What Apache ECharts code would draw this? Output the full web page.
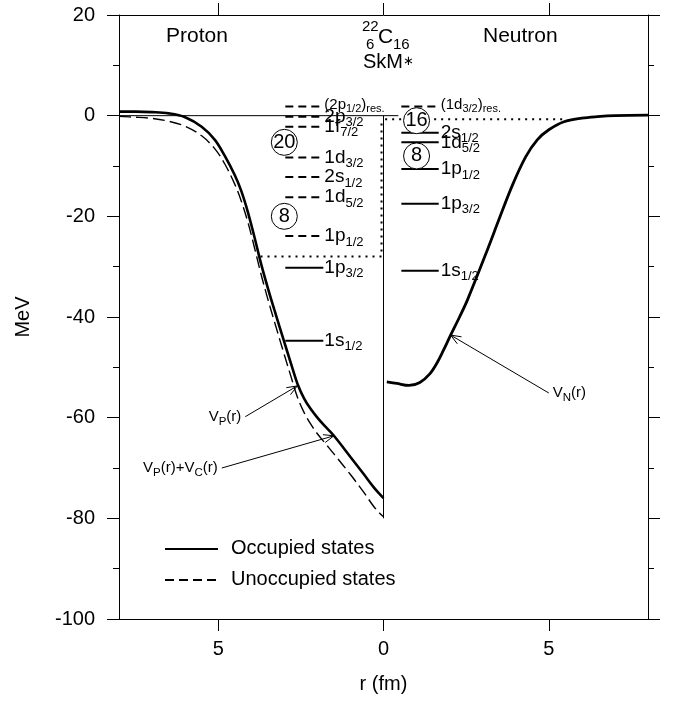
<!DOCTYPE html>
<html><head><meta charset="utf-8">
<script src="https://cdn.jsdelivr.net/npm/echarts@6/dist/echarts.min.js"></script>
<style>html,body{margin:0;padding:0;background:#fff}#c{width:675px;height:702px}</style>
</head><body><div id="c"></div>
<script>
// ---------------- data ----------------
// Proton potentials (left half, plotted at x = -r)
const protonR   = [8, 7.5, 7, 6.5, 6, 5.5, 5.1, 4.8, 4.5, 4.3, 4.1, 3.9, 3.7, 3.5, 3.3, 3.0, 2.8, 2.6, 2.4, 2.2, 2.0, 1.8, 1.5, 1.0, 0.6, 0.3, 0.1, 0];
const protonVP  = [0.8, 0.8, 0.7, 0.45, -0.3, -2.2, -4.8, -8, -11.8, -15, -19.2, -24.2, -29.5, -34.2, -38.6, -45, -49.2, -53.3, -56.2, -58.3, -60, -61.5, -63.6, -67.8, -71.2, -73.8, -75.3, -76];
const protonVPC = [-0.15, -0.3, -0.55, -1.1, -2.1, -4.0, -6.6, -9.6, -13.6, -17, -21.2, -26.3, -31.6, -36.4, -40.9, -47.5, -51.8, -56, -59, -61.3, -63.2, -64.8, -67.2, -71.3, -74.8, -77.6, -79.1, -79.7];
// Neutron potential (right half)
const neutronR = [0.1, 0.4, 0.77, 1.1, 1.4, 1.63, 1.8, 2.03, 2.3, 2.54, 3.14, 3.5, 3.9, 4.3, 4.65, 5.0, 5.46, 6.0, 6.47, 7.0, 8.0];
const neutronV = [-52.9, -53.2, -53.6, -53.0, -51.3, -49.0, -46.8, -43.6, -40.0, -36.6, -26.7, -20.5, -13.8, -8.2, -4.8, -2.8, -1.2, -0.5, -0.2, 0.0, 0.1];

// Single-particle levels
const protonOrbit = ['2p', '2p', '1f', '1d', '2s', '1d', '1p', '1p', '1s'];
const protonJ     = ['1/2', '3/2', '7/2', '3/2', '1/2', '5/2', '1/2', '3/2', '1/2'];
const protonE     = [1.8, -0.2, -2.2, -8.3, -12.2, -16.2, -23.9, -30.2, -44.7];
const protonOcc   = [0, 0, 0, 0, 0, 0, 0, 1, 1];
const protonRes   = [1, 0, 0, 0, 0, 0, 0, 0, 0];

const neutronOrbit = ['1d', '2s', '1d', '1p', '1p', '1s'];
const neutronJ     = ['3/2', '1/2', '5/2', '1/2', '3/2', '1/2'];
const neutronE     = [1.8, -3.4, -5.3, -10.6, -17.5, -30.8];
const neutronOcc   = [0, 1, 1, 1, 1, 1];
const neutronRes   = [1, 0, 0, 0, 0, 0];

// Fermi levels
const protonFermi = -28;
const neutronFermi = -0.7;

// Shell-closure circles
const magicX    = [-3.0, -3.0, 1.0, 1.0];
const magicE    = [-5.3, -20.0, -1.0, -8.0];
const magicText = ['20', '8', '16', '8'];

// Axis ticks
const xTicks = [-5, 0, 5];
const yMin = -100, yMax = 20, yStep = 20;

// Arrow annotations
const arrowFrom = [[-4.18, -59.8], [-4.89, -70.0], [5.0, -55.1]];
const arrowTo   = [[-2.61, -53.7], [-1.5, -63.6], [2.03, -43.6]];
const arrowText = ['{m|V}{s|P}{m|(r)}', '{m|V}{s|P}{m|(r)+V}{s|C}{m|(r)}', '{m|V}{s|N}{m|(r)}'];
const arrowSide = ['left', 'left', 'right'];

// ---------------- chart ----------------
const FONT = '"Liberation Sans", Arial, Helvetica, sans-serif';
const chart = echarts.init(document.getElementById('c'), null, {renderer: 'canvas'});

const LEVEL_RICH = {
  m:  {fontSize: 19, fontFamily: FONT, lineHeight: 30},
  s:  {fontSize: 13, fontFamily: FONT, lineHeight: 14, padding: [12, 0, 0, 0]},
  rm: {fontSize: 15, fontFamily: FONT, lineHeight: 24},
  rs: {fontSize: 11, fontFamily: FONT, lineHeight: 12, padding: [9, 0, 0, 0]},
  rr: {fontSize: 11, fontFamily: FONT, lineHeight: 12, padding: [9, 0, 0, 0]}
};
const ARROW_RICH = {
  m: {fontSize: 15, fontFamily: FONT, lineHeight: 26},
  s: {fontSize: 11.5, fontFamily: FONT, lineHeight: 12, padding: [10, 0, 0, 0]}
};

function levelSeries(orbit, jj, es, occ, res, xFrom, xTo, gap) {
  return {
    type: 'custom', coordinateSystem: 'cartesian2d', silent: true, z: 5, animation: false,
    data: es.map((e, i) => [xFrom, xTo, e, i]),
    encode: {x: [0, 1], y: 2},
    renderItem: (params, api) => {
      const i = api.value(3);
      const p1 = api.coord([api.value(0), api.value(2)]);
      const p2 = api.coord([api.value(1), api.value(2)]);
      const text = res[i]
        ? '{rm|(' + orbit[i] + '}{rs|' + jj[i] + '}{rm|)}{rr|res.}'
        : '{m|' + orbit[i] + '}{s|' + jj[i] + '}';
      return {type: 'group', children: [
        {type: 'line', shape: {x1: p1[0], y1: p1[1], x2: p2[0], y2: p2[1]},
         style: {stroke: '#000', lineWidth: 2, lineDash: occ[i] ? null : [8, 5]}},
        {type: 'text', x: p2[0] + gap, y: p2[1] + (res[i] ? -2 : 0),
         style: {text: text, rich: LEVEL_RICH, fill: '#000', align: 'left', verticalAlign: 'middle',
                 textAlign: 'left', textVerticalAlign: 'middle'}}
      ]};
    }
  };
}

const option = {
  animation: false,
  textStyle: {fontFamily: FONT, color: '#000'},
  grid: {left: 119, right: 27, top: 15, bottom: 83, containLabel: false},
  xAxis: [{
    type: 'value', min: -8, max: 8, position: 'bottom',
    axisLine: {show: true, onZero: false, lineStyle: {color: '#000', width: 1}},
    axisTick: {show: true, inside: false, length: 12, customValues: xTicks, lineStyle: {color: '#000'}},
    axisLabel: {show: true, customValues: xTicks, formatter: v => String(Math.abs(v)), fontSize: 20, color: '#000', margin: 20, fontFamily: FONT},
    splitLine: {show: false},
    name: 'r (fm)', nameLocation: 'middle', nameGap: 55,
    nameTextStyle: {fontSize: 20, color: '#000', fontFamily: FONT}
  }, {
    type: 'value', min: -8, max: 8, position: 'top',
    axisLine: {show: true, onZero: false, lineStyle: {color: '#000', width: 1}},
    axisTick: {show: true, inside: false, length: 12, customValues: xTicks, lineStyle: {color: '#000'}},
    axisLabel: {show: false}, splitLine: {show: false}
  }],
  yAxis: [{
    type: 'value', min: yMin, max: yMax, interval: yStep, position: 'left',
    axisLine: {show: true, onZero: false, lineStyle: {color: '#000', width: 1}},
    axisTick: {show: true, inside: false, length: 12, lineStyle: {color: '#000'}},
    minorTick: {show: true, splitNumber: 2, length: 6, lineStyle: {color: '#000'}},
    axisLabel: {fontSize: 20, color: '#000', margin: 24, fontFamily: FONT},
    splitLine: {show: false},
    name: 'MeV', nameLocation: 'middle', nameGap: 86, nameRotate: 90,
    nameTextStyle: {fontSize: 20, color: '#000', fontFamily: FONT}
  }, {
    type: 'value', min: yMin, max: yMax, interval: yStep, position: 'right',
    axisLine: {show: true, onZero: false, lineStyle: {color: '#000', width: 1}},
    axisTick: {show: true, inside: false, length: 12, lineStyle: {color: '#000'}},
    minorTick: {show: true, splitNumber: 2, length: 6, lineStyle: {color: '#000'}},
    axisLabel: {show: false}, splitLine: {show: false}
  }],
  series: [
    // zero reference lines
    {type: 'line', silent: true, symbol: 'none', z: 2,
     data: [[-8, 0], [0.45, 0]], lineStyle: {color: '#000', width: 1}},
    {type: 'line', silent: true, symbol: 'none', z: 2,
     data: [[0, 0], [0, -80]], lineStyle: {color: '#000', width: 1}},
    // Fermi levels (dotted)
    {type: 'line', silent: true, symbol: 'none', z: 3,
     data: [[-3.72, protonFermi], [-0.06, protonFermi], [-0.06, -0.7]],
     lineStyle: {color: '#000', width: 2, type: [2, 5]}},
    {type: 'line', silent: true, symbol: 'none', z: 3,
     data: [[0.05, neutronFermi], [5.55, neutronFermi]],
     lineStyle: {color: '#000', width: 2, type: [2, 5]}},
    // potentials
    {type: 'line', name: 'VP', silent: true, symbol: 'none', smooth: 0.35, z: 4,
     data: protonR.map((r, i) => [-r, protonVP[i]]), lineStyle: {color: '#000', width: 2.6}},
    {type: 'line', name: 'VPC', silent: true, symbol: 'none', smooth: 0.35, z: 4,
     data: protonR.map((r, i) => [-r, protonVPC[i]]), lineStyle: {color: '#000', width: 1.4, type: [12, 5]}},
    {type: 'line', name: 'VN', silent: true, symbol: 'none', smooth: 0.35, z: 4,
     data: neutronR.map((r, i) => [r, neutronV[i]]), lineStyle: {color: '#000', width: 2.8}},
    // levels
    levelSeries(protonOrbit, protonJ, protonE, protonOcc, protonRes, -2.97, -1.82, 1),
    levelSeries(neutronOrbit, neutronJ, neutronE, neutronOcc, neutronRes, 0.54, 1.67, 2),
    // magic number circles
    {type: 'scatter', silent: true, z: 8, symbol: 'circle', symbolSize: 26,
     data: magicX.map((x, i) => [x, magicE[i], magicText[i]]),
     itemStyle: {color: '#fff', borderColor: '#000', borderWidth: 1, opacity: 1},
     label: {show: true, position: 'inside', formatter: p => p.value[2], fontSize: 20, color: '#000', fontFamily: FONT}},
    // arrows
    {type: 'custom', coordinateSystem: 'cartesian2d', silent: true, z: 9,
     data: arrowFrom.map((f, i) => [f[0], f[1], arrowTo[i][0], arrowTo[i][1], i]),
     encode: {x: [0, 2], y: [1, 3]},
     renderItem: (params, api) => {
       const i = api.value(4);
       const a = api.coord([api.value(0), api.value(1)]);
       const b = api.coord([api.value(2), api.value(3)]);
       const ang = Math.atan2(b[1] - a[1], b[0] - a[0]);
       const L = 11, h = 0.38;
       const h1 = [b[0] - L * Math.cos(ang - h), b[1] - L * Math.sin(ang - h)];
       const h2 = [b[0] - L * Math.cos(ang + h), b[1] - L * Math.sin(ang + h)];
       const left = arrowSide[i] === 'left';
       return {type: 'group', children: [
         {type: 'line', shape: {x1: a[0], y1: a[1], x2: b[0], y2: b[1]}, style: {stroke: '#000', lineWidth: 1}},
         {type: 'polyline', shape: {points: [h1, b, h2]}, style: {stroke: '#000', lineWidth: 1, fill: null}},
         {type: 'text', x: a[0] + (left ? -4 : 4), y: a[1],
          style: {text: arrowText[i], rich: ARROW_RICH, fill: '#000',
                  align: left ? 'right' : 'left', verticalAlign: 'middle',
                  textAlign: left ? 'right' : 'left', textVerticalAlign: 'middle'}}
       ]};
     }}
  ],
  graphic: [
    {type: 'text', left: 166, top: 26, style: {text: 'Proton', font: '21px ' + FONT, fill: '#000'}},
    {type: 'text', left: 483, top: 26, style: {text: 'Neutron', font: '21px ' + FONT, fill: '#000'}},
    {type: 'text', left: 378, top: 27, style: {text: 'C', font: '21px ' + FONT, fill: '#000'}},
    {type: 'text', left: 362, top: 19, style: {text: '22', font: '15px ' + FONT, fill: '#000'}},
    {type: 'text', left: 366, top: 37, style: {text: '6', font: '15px ' + FONT, fill: '#000'}},
    {type: 'text', left: 393, top: 37, style: {text: '16', font: '15px ' + FONT, fill: '#000'}},
    {type: 'text', left: 363, top: 52, style: {text: '{a|SkM}{b|\u2217}', fill: '#000',
      rich: {a: {fontSize: 20, fontFamily: FONT, lineHeight: 22}, b: {fontSize: 13, fontFamily: '"DejaVu Sans", ' + FONT, lineHeight: 22}}}},
    // legend
    {type: 'line', shape: {x1: 165, y1: 549, x2: 218, y2: 549}, style: {stroke: '#000', lineWidth: 2}},
    {type: 'text', left: 231, top: 538, style: {text: 'Occupied states', font: '20px ' + FONT, fill: '#000'}},
    {type: 'line', shape: {x1: 165, y1: 580, x2: 218, y2: 580}, style: {stroke: '#000', lineWidth: 2, lineDash: [9, 5]}},
    {type: 'text', left: 231, top: 569, style: {text: 'Unoccupied states', font: '20px ' + FONT, fill: '#000'}}
  ]
};
chart.setOption(option);
</script></body></html>
